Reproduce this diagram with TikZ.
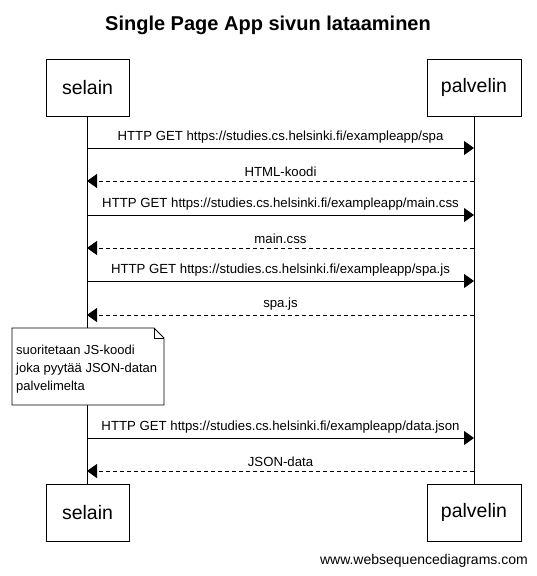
\documentclass[tikz,border=0pt]{standalone}
\usepackage{fontspec}
\setmainfont{Liberation Sans}
\usetikzlibrary{arrows.meta}
\begin{document}
\begin{tikzpicture}[x=1pt,y=-1pt,
  part/.style={draw,line width=0.8pt,minimum width=94pt,minimum height=57pt,font=\fontsize{19.5}{22}\selectfont,inner sep=0pt},
  msg/.style={line width=0.8pt,-{Triangle[length=10pt,width=14pt]}},
  rmsg/.style={msg,dashed,dash pattern=on 4pt off 3pt},
  lbl/.style={font=\fontsize{13.2}{15}\selectfont,inner sep=0pt},
  life/.style={line width=0.8pt}]
\useasboundingbox (0,0) rectangle (536,576);
\node[font=\bfseries\fontsize{20}{22}\selectfont] (title) at (268,25) {Single Page App sivun lataaminen};
\node[part,minimum width=83pt] (s1) at (87.5,87.5) {selain};
\node[part] (p1) at (474,87.5) {palvelin};
\node[part,minimum width=83pt] (s2) at (87.5,512.5) {selain};
\node[part] (p2) at (474,512.5) {palvelin};
\draw[life] (s1.south) -- (s2.north);
\draw[life] (p1.south) -- (p2.north);
% messages
\coordinate (a1) at (87,148); \coordinate (b1) at (474,148);
\coordinate (a2) at (87,181); \coordinate (b2) at (474,181);
\coordinate (a3) at (87,215); \coordinate (b3) at (474,215);
\coordinate (a4) at (87,248); \coordinate (b4) at (474,248);
\coordinate (a5) at (87,281); \coordinate (b5) at (474,281);
\coordinate (a6) at (87,315); \coordinate (b6) at (474,315);
\coordinate (a7) at (87,438); \coordinate (b7) at (474,438);
\coordinate (a8) at (87,471); \coordinate (b8) at (474,471);
\draw[msg] (a1) -- node[lbl,above=4pt] (m1) {HTTP GET https://studies.cs.helsinki.fi/exampleapp/spa} (b1);
\draw[rmsg] (b2) -- node[lbl,above=4pt] (m2) {HTML-koodi} (a2);
\draw[msg] (a3) -- node[lbl,above=4pt] (m3) {HTTP GET https://studies.cs.helsinki.fi/exampleapp/main.css} (b3);
\draw[rmsg] (b4) -- node[lbl,above=4pt] (m4) {main.css} (a4);
\draw[msg] (a5) -- node[lbl,above=4pt] (m5) {HTTP GET https://studies.cs.helsinki.fi/exampleapp/spa.js} (b5);
\draw[rmsg] (b6) -- node[lbl,above=4pt] (m6) {spa.js} (a6);
\draw[msg] (a7) -- node[lbl,above=4pt] (m7) {HTTP GET https://studies.cs.helsinki.fi/exampleapp/data.json} (b7);
\draw[rmsg] (b8) -- node[lbl,above=4pt] (m8) {JSON-data} (a8);
% note
\draw[fill=white,line width=0.8pt] (12,328) -- (154,328) -- (164,338) -- (164,405) -- (12,405) -- cycle;
\draw[line width=0.8pt] (154,328) -- (154,338) -- (164,338);
\node[lbl,anchor=north west,align=left,font=\fontsize{13}{18}\selectfont] (note) at (16,345) {suoritetaan JS-koodi\\joka pyytää JSON-datan\\palvelimelta};
\node[font=\fontsize{14}{16}\selectfont,anchor=east,inner sep=0pt] (foot) at (528,561) {www.websequencediagrams.com};
\end{tikzpicture}
\end{document}
